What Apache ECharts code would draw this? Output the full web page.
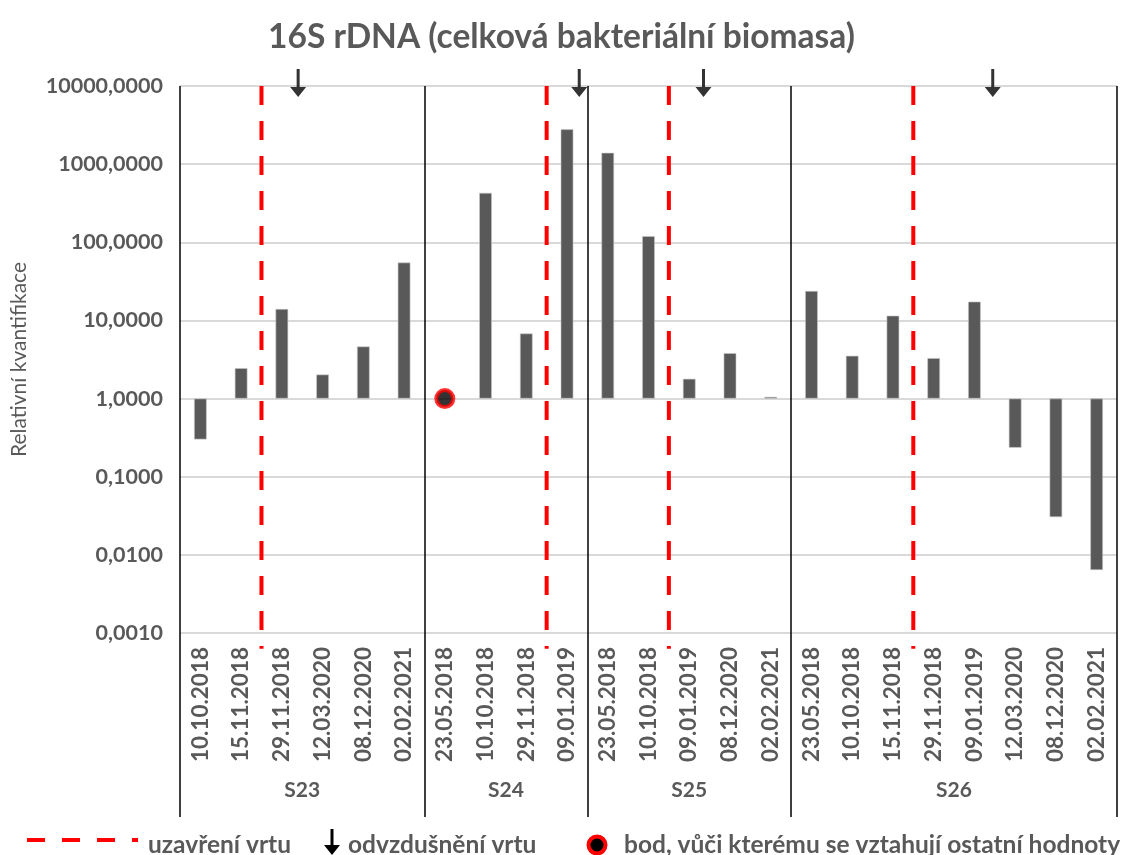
<!DOCTYPE html>
<html>
<head>
<meta charset="utf-8">
<title>16S rDNA (celková bakteriální biomasa)</title>
<script src="https://cdn.jsdelivr.net/npm/echarts@6/dist/echarts.min.js"></script>
<style>
  html, body { margin: 0; padding: 0; background: #ffffff; }
  #chart { width: 1123px; height: 855px; }
</style>
</head>
<body>
<div id="chart"></div>
<script>
// Wells (category groups) and sampling dates
const groupNames = ['S23', 'S24', 'S25', 'S26'];

const datesS23 = ['10.10.2018', '15.11.2018', '29.11.2018', '12.03.2020', '08.12.2020', '02.02.2021'];
const valuesS23 = [0.30, 2.45, 14.0, 2.03, 4.64, 55.0];

const datesS24 = ['23.05.2018', '10.10.2018', '29.11.2018', '09.01.2019'];
const valuesS24 = [1.0, 429, 6.8, 2790];

const datesS25 = ['23.05.2018', '10.10.2018', '09.01.2019', '08.12.2020', '02.02.2021'];
const valuesS25 = [1396, 120, 1.79, 3.81, 1.05];

const datesS26 = ['23.05.2018', '10.10.2018', '15.11.2018', '29.11.2018', '09.01.2019', '12.03.2020', '08.12.2020', '02.02.2021'];
const valuesS26 = [23.8, 3.53, 11.5, 3.29, 17.4, 0.235, 0.0304, 0.0064];

// Events, in category units along the whole axis (0 = left edge)
const closurePositions = [2, 9, 12, 18];            // uzavření vrtu
const ventingPositions = [2.9, 9.8, 12.85, 19.95];  // odvzdušnění vrtu
// Reference sample (S24, 23.05.2018) to which the other values are related
const referenceIndex = 6;
const referenceValue = 1;

// Y axis range
const yMin = 0.001;
const yMax = 10000;

// ---- derived structures ----
const groupDates = [datesS23, datesS24, datesS25, datesS26];
const groupValues = [valuesS23, valuesS24, valuesS25, valuesS26];
const categories = [].concat(...groupDates);
const barValues = [].concat(...groupValues);
const total = categories.length;

const boundaries = [0];
groupDates.forEach(d => boundaries.push(boundaries[boundaries.length - 1] + d.length));
const groupCenters = groupNames.map((_, i) => (boundaries[i] + boundaries[i + 1]) / 2);
const centerName = {};
groupCenters.forEach((c, i) => { centerName[c] = groupNames[i]; });

const FONT = 'Lato, "Open Sans", sans-serif';
const GREY = '#595959';
const ARROW = 'path://M6.5,0 L9.5,0 L9.5,18 L16,18 L8,28 L0,18 L6.5,18 Z';

function fmt(v) {
  return Number(v).toFixed(4).replace('.', ',');
}

// small down-arrow outline for the legend, around (cx, top)
function arrowPoints(cx, top) {
  return [
    [cx - 1.5, top], [cx + 1.5, top], [cx + 1.5, top + 16], [cx + 8, top + 16],
    [cx, top + 26], [cx - 8, top + 16], [cx - 1.5, top + 16]
  ];
}

const closureSeries = closurePositions.map(x => ({
  type: 'line',
  xAxisIndex: 1,
  yAxisIndex: 0,
  clip: false,
  symbol: 'none',
  silent: true,
  z: 4,
  lineStyle: { color: '#ff0000', width: 4, type: [19, 16], cap: 'butt' },
  data: [[x, yMax], [x, yMin * 0.63]]
}));

const chart = echarts.init(document.getElementById('chart'), null, { renderer: 'canvas' });

chart.setOption({
  backgroundColor: '#ffffff',
  animation: false,
  title: {
    text: '16S rDNA (celková bakteriální biomasa)',
    left: 'center',
    top: 15,
    textStyle: { fontFamily: FONT, fontSize: 33.5, fontWeight: 'bold', color: GREY }
  },
  grid: { left: 180, right: 6, top: 86, bottom: 222, containLabel: false },
  xAxis: [
    {
      type: 'category',
      data: categories,
      boundaryGap: true,
      position: 'bottom',
      axisLine: { show: false },
      axisTick: { show: false },
      splitLine: { show: false },
      axisLabel: {
        interval: 0,
        rotate: 90,
        margin: 14,
        fontFamily: FONT,
        fontSize: 22.5,
        fontWeight: 'bold',
        color: GREY
      }
    },
    {
      type: 'value',
      min: 0,
      max: total,
      position: 'bottom',
      axisLine: { show: false },
      axisTick: {
        show: true,
        customValues: boundaries,
        length: 184,
        lineStyle: { color: '#000000', width: 1.5 }
      },
      splitLine: {
        show: true,
        lineStyle: { color: '#000000', width: 1.5 }
      },
      axisLabel: {
        customValues: groupCenters,
        margin: 147,
        fontFamily: FONT,
        fontSize: 21,
        fontWeight: 'bold',
        color: GREY,
        formatter: v => centerName[v] || ''
      }
    }
  ],
  yAxis: {
    type: 'log',
    logBase: 10,
    min: yMin,
    max: yMax,
    name: 'Relativní kvantifikace',
    nameLocation: 'middle',
    nameGap: 150,
    nameRotate: 90,
    nameTextStyle: { fontFamily: FONT, fontSize: 21, color: GREY },
    axisLine: { show: false },
    axisTick: { show: false },
    splitLine: { show: true, lineStyle: { color: '#d9d9d9', width: 2 } },
    axisLabel: {
      margin: 17,
      fontFamily: FONT,
      fontSize: 21.5,
      fontWeight: 'bold',
      color: GREY,
      formatter: fmt
    }
  },
  series: [
    {
      name: 'Relativní kvantifikace',
      type: 'bar',
      xAxisIndex: 0,
      yAxisIndex: 0,
      barWidth: '31%',
      z: 3,
      itemStyle: { color: '#595959', borderColor: '#c8c8c8', borderWidth: 0.6 },
      data: barValues
    },
    ...closureSeries,
    {
      name: 'odvzdušnění vrtu',
      type: 'scatter',
      xAxisIndex: 1,
      yAxisIndex: 0,
      clip: false,
      symbol: ARROW,
      symbolSize: [16, 28],
      symbolOffset: [0, -3],
      itemStyle: { color: '#000000' },
      z: 6,
      data: ventingPositions.map(x => [x, yMax])
    },
    {
      name: 'bod, vůči kterému se vztahují ostatní hodnoty',
      type: 'scatter',
      xAxisIndex: 0,
      yAxisIndex: 0,
      symbol: 'circle',
      symbolSize: 17,
      itemStyle: { color: '#000000', borderColor: '#ff0000', borderWidth: 4 },
      z: 7,
      data: [[referenceIndex, referenceValue]]
    }
  ],
  graphic: [
    {
      type: 'line',
      silent: true,
      shape: { x1: 27, y1: 840, x2: 138, y2: 840 },
      style: { stroke: '#ff0000', lineWidth: 4, lineDash: [18, 17] }
    },
    {
      type: 'text',
      silent: true,
      x: 148, y: 845,
      style: { text: 'uzavření vrtu', font: 'bold 24.5px ' + FONT, fill: GREY, verticalAlign: 'middle' }
    },
    {
      type: 'polygon',
      silent: true,
      shape: { points: arrowPoints(332, 829) },
      style: { fill: '#000000' }
    },
    {
      type: 'text',
      silent: true,
      x: 348, y: 845,
      style: { text: 'odvzdušnění vrtu', font: 'bold 24.5px ' + FONT, fill: GREY, verticalAlign: 'middle' }
    },
    {
      type: 'circle',
      silent: true,
      shape: { cx: 597, cy: 845, r: 8.5 },
      style: { fill: '#000000', stroke: '#ff0000', lineWidth: 4 }
    },
    {
      type: 'text',
      silent: true,
      x: 624, y: 845,
      style: { text: 'bod, vůči kterému se vztahují ostatní hodnoty', font: 'bold 24.5px ' + FONT, fill: GREY, verticalAlign: 'middle' }
    }
  ]
});
</script>
</body>
</html>
